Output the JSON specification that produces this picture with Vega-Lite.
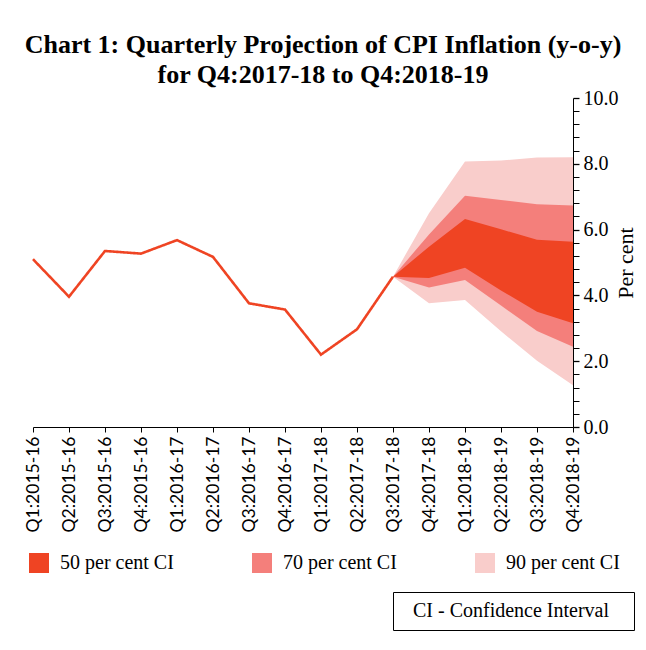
{
  "$schema": "https://vega.github.io/schema/vega-lite/v6.json",
  "autosize": {"type": "none"},
  "width": 540,
  "height": 329,
  "padding": {"left": 33, "top": 98, "right": 73, "bottom": 223},
  "background": "white",
  "title": {
    "text": ["Chart 1: Quarterly Projection of CPI Inflation (y-o-y)", "for Q4:2017-18 to Q4:2018-19"],
    "font": "Liberation Serif",
    "fontSize": 26,
    "fontWeight": "bold",
    "color": "black",
    "anchor": "middle",
    "dx": 20,
    "offset": 0,
    "lineHeight": 30
  },
  "datasets": {
    "actual": [
      {"q": "Q1:2015-16", "v": 5.1},
      {"q": "Q2:2015-16", "v": 3.96},
      {"q": "Q3:2015-16", "v": 5.35},
      {"q": "Q4:2015-16", "v": 5.27},
      {"q": "Q1:2016-17", "v": 5.68},
      {"q": "Q2:2016-17", "v": 5.17},
      {"q": "Q3:2016-17", "v": 3.76},
      {"q": "Q4:2016-17", "v": 3.57},
      {"q": "Q1:2017-18", "v": 2.2},
      {"q": "Q2:2017-18", "v": 2.97},
      {"q": "Q3:2017-18", "v": 4.57}
    ],
    "bands": [
      {"q": "Q3:2017-18", "band": "90 per cent CI", "lo": 4.57, "hi": 4.57},
      {"q": "Q4:2017-18", "band": "90 per cent CI", "lo": 3.76, "hi": 6.5},
      {"q": "Q1:2018-19", "band": "90 per cent CI", "lo": 3.86, "hi": 8.07},
      {"q": "Q2:2018-19", "band": "90 per cent CI", "lo": 2.91, "hi": 8.1},
      {"q": "Q3:2018-19", "band": "90 per cent CI", "lo": 2.01, "hi": 8.19},
      {"q": "Q4:2018-19", "band": "90 per cent CI", "lo": 1.27, "hi": 8.2},
      {"q": "Q3:2017-18", "band": "70 per cent CI", "lo": 4.57, "hi": 4.57},
      {"q": "Q4:2017-18", "band": "70 per cent CI", "lo": 4.24, "hi": 5.85},
      {"q": "Q1:2018-19", "band": "70 per cent CI", "lo": 4.47, "hi": 7.03},
      {"q": "Q2:2018-19", "band": "70 per cent CI", "lo": 3.69, "hi": 6.9},
      {"q": "Q3:2018-19", "band": "70 per cent CI", "lo": 2.92, "hi": 6.77},
      {"q": "Q4:2018-19", "band": "70 per cent CI", "lo": 2.44, "hi": 6.73},
      {"q": "Q3:2017-18", "band": "50 per cent CI", "lo": 4.57, "hi": 4.57},
      {"q": "Q4:2017-18", "band": "50 per cent CI", "lo": 4.53, "hi": 5.48},
      {"q": "Q1:2018-19", "band": "50 per cent CI", "lo": 4.84, "hi": 6.32},
      {"q": "Q2:2018-19", "band": "50 per cent CI", "lo": 4.15, "hi": 6.01},
      {"q": "Q3:2018-19", "band": "50 per cent CI", "lo": 3.5, "hi": 5.69},
      {"q": "Q4:2018-19", "band": "50 per cent CI", "lo": 3.15, "hi": 5.63}
    ]
  },
  "encoding": {
    "x": {
      "field": "q",
      "type": "ordinal",
      "scale": {
        "type": "point",
        "padding": 0,
        "domain": ["Q1:2015-16", "Q2:2015-16", "Q3:2015-16", "Q4:2015-16", "Q1:2016-17", "Q2:2016-17", "Q3:2016-17", "Q4:2016-17", "Q1:2017-18", "Q2:2017-18", "Q3:2017-18", "Q4:2017-18", "Q1:2018-19", "Q2:2018-19", "Q3:2018-19", "Q4:2018-19"]
      },
      "axis": {
        "title": null,
        "labelAngle": -90,
        "labelFont": "Lato",
        "labelFontSize": 17.5,
        "labelColor": "black",
        "labelPadding": 4,
        "tickSize": 5,
        "tickColor": "black",
        "domainColor": "black",
        "grid": false
      }
    }
  },
  "layer": [
    {
      "data": {"name": "bands"},
      "transform": [{"filter": "datum.band === '90 per cent CI'"}],
      "mark": {"type": "area", "opacity": 1},
      "encoding": {
        "y": {
          "field": "lo",
          "type": "quantitative",
          "scale": {"domain": [0, 10], "nice": false, "zero": true},
          "axis": {
            "orient": "right",
            "title": "Per cent",
            "titleFont": "Liberation Serif",
            "titleFontSize": 22,
            "titleFontWeight": "normal",
            "titleColor": "black",
            "titleAngle": 270,
            "titleBaseline": "bottom",
            "titlePadding": 19,
            "values": [0, 0.4, 0.8, 1.2, 1.6, 2, 2.4, 2.8, 3.2, 3.6, 4, 4.4, 4.8, 5.2, 5.6, 6, 6.4, 6.8, 7.2, 7.6, 8, 8.4, 8.8, 9.2, 9.6, 10],
            "tickCount": 40,
            "format": ".1f",
            "labelOverlap": false,
            "labelFont": "Liberation Serif",
            "labelFontSize": {"condition": {"test": "abs(datum.value / 2 - round(datum.value / 2)) < 0.01", "value": 20}, "value": 0},
            "labelOpacity": {"condition": {"test": "abs(datum.value / 2 - round(datum.value / 2)) < 0.01", "value": 1}, "value": 0},
            "labelColor": "black",
            "labelPadding": 4,
            "tickSize": 6,
            "tickColor": "black",
            "tickWidth": {"condition": {"test": "abs(datum.value / 2 - round(datum.value / 2)) < 0.01", "value": 1.3}, "value": 1},
            "domainColor": "black",
            "grid": false
          }
        },
        "y2": {"field": "hi"},
        "color": {
          "field": "band",
          "type": "nominal",
          "scale": {
            "domain": ["50 per cent CI", "70 per cent CI", "90 per cent CI"],
            "range": ["#EF4423", "#F47F7B", "#F9CDCB"]
          },
          "legend": {
            "orient": "none",
            "legendX": -4,
            "legendY": 455,
            "direction": "horizontal",
            "columns": 3,
            "title": null,
            "symbolType": "square",
            "symbolSize": 400,
            "symbolStrokeWidth": 0,
            "symbolOpacity": 1,
            "labelOffset": 11,
            "columnPadding": 78,
            "labelFont": "Liberation Serif",
            "labelFontSize": 20,
            "labelColor": "black",
            "labelLimit": 300
          }
        }
      }
    },
    {
      "data": {"name": "bands"},
      "transform": [{"filter": "datum.band === '70 per cent CI'"}],
      "mark": {"type": "area", "opacity": 1},
      "encoding": {
        "y": {"field": "lo", "type": "quantitative"},
        "y2": {"field": "hi"},
        "color": {"field": "band", "type": "nominal"}
      }
    },
    {
      "data": {"name": "bands"},
      "transform": [{"filter": "datum.band === '50 per cent CI'"}],
      "mark": {"type": "area", "opacity": 1},
      "encoding": {
        "y": {"field": "lo", "type": "quantitative"},
        "y2": {"field": "hi"},
        "color": {"field": "band", "type": "nominal"}
      }
    },
    {
      "data": {"name": "actual"},
      "mark": {"type": "line", "color": "#EF4423", "strokeWidth": 2.6},
      "encoding": {
        "y": {"field": "v", "type": "quantitative"},
        "strokeDash": {
          "datum": "CI - Confidence Interval",
          "scale": {"range": [[1, 0]]},
          "legend": {
            "orient": "none",
            "legendX": 360,
            "legendY": 494,
            "title": null,
            "strokeColor": "black",
            "padding": 9,
            "symbolSize": 1,
            "symbolOpacity": 0,
            "symbolStrokeWidth": 0,
            "labelOffset": -9,
            "labelFont": "Liberation Serif",
            "labelFontSize": 20,
            "labelColor": "black",
            "labelLimit": 400,
            "labelExpr": "datum.label + '\u2800'"
          }
        }
      }
    }
  ],
  "config": {
    "view": {"stroke": null},
    "axis": {"labelOverlap": false}
  }
}
